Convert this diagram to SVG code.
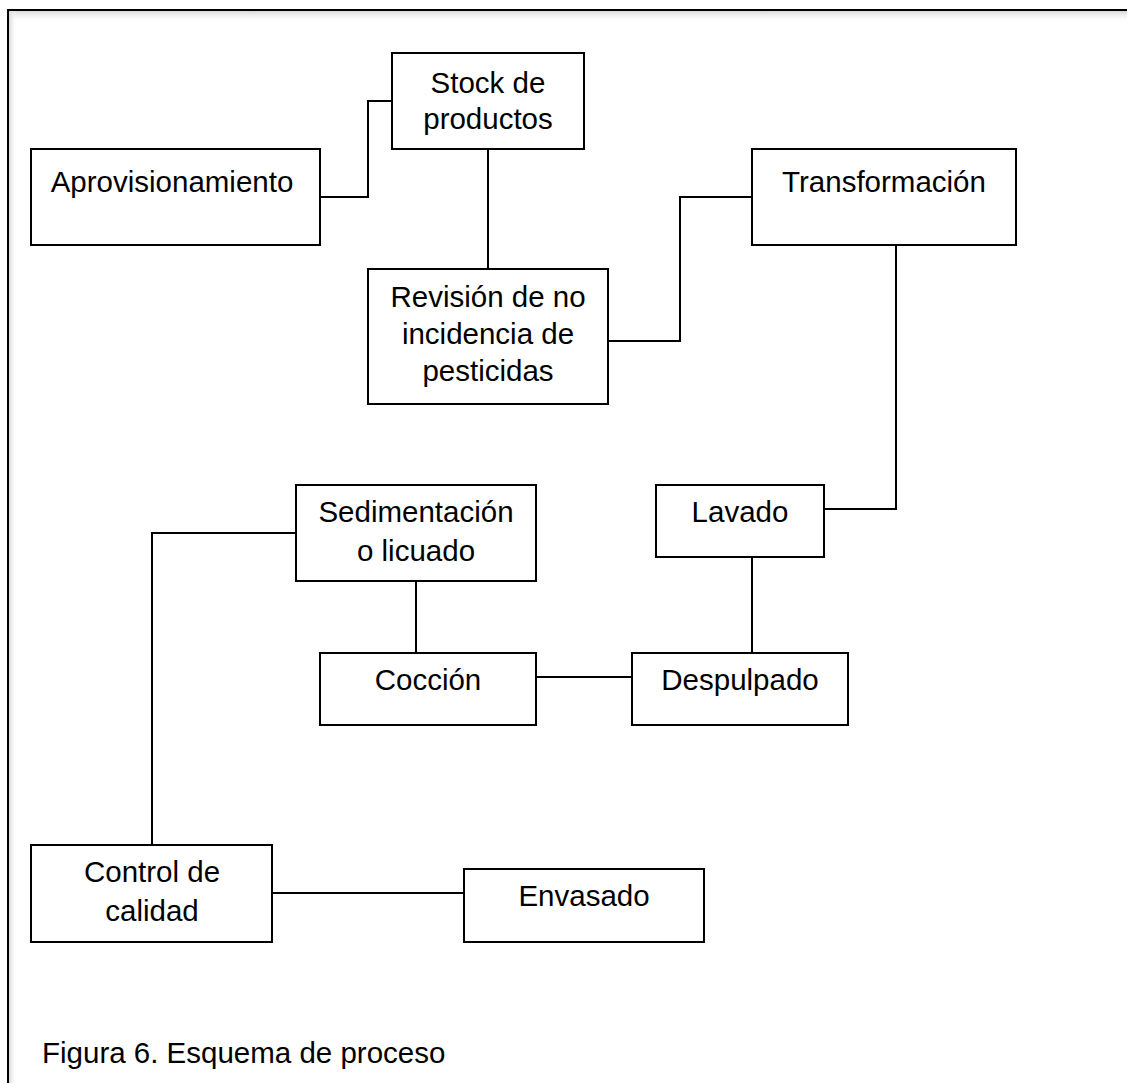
<svg xmlns="http://www.w3.org/2000/svg" width="1127" height="1083" viewBox="0 0 1127 1083">
  <defs>
    <linearGradient id="shTop" x1="0" y1="0" x2="0" y2="1">
      <stop offset="0" stop-color="#d8d8d8"/>
      <stop offset="1" stop-color="#ffffff" stop-opacity="0"/>
    </linearGradient>
    <linearGradient id="shLeft" x1="0" y1="0" x2="1" y2="0">
      <stop offset="0" stop-color="#d8d8d8"/>
      <stop offset="1" stop-color="#ffffff" stop-opacity="0"/>
    </linearGradient>
  </defs>
  <style>
    .box { fill: #ffffff; stroke: #000000; stroke-width: 2; }
    .conn { fill: none; stroke: #000000; stroke-width: 2; }
    .lbl { font-family: "Liberation Sans", Arial, sans-serif; font-size: 29.5px; fill: #000000; text-anchor: middle; }
    .cap { font-family: "Liberation Sans", Arial, sans-serif; font-size: 29.5px; fill: #000000; }
  </style>
  <rect x="0" y="0" width="1127" height="1083" fill="#ffffff"/>
  <g id="frame">
    <rect x="9" y="11" width="1118" height="12" fill="url(#shTop)"/>
    <rect x="9" y="11" width="8" height="1072" fill="url(#shLeft)"/>
    <path d="M8,1083 V10 H1127" fill="none" stroke="#000000" stroke-width="2"/>
  </g>
  <g id="connectors">
    <path class="conn" d="M320,197 H368 V101 H392"/>
    <path class="conn" d="M488,149 V269"/>
    <path class="conn" d="M608,341 H680 V197 H752"/>
    <path class="conn" d="M896,245 V509 H824"/>
    <path class="conn" d="M752,557 V653"/>
    <path class="conn" d="M632,677 H536"/>
    <path class="conn" d="M416,653 V581"/>
    <path class="conn" d="M296,533 H152 V845"/>
    <path class="conn" d="M272,893 H464"/>
  </g>
  <g id="aprovisionamiento">
    <rect class="box" x="31" y="149" width="289" height="96"/>
    <text class="lbl" x="172" y="192">Aprovisionamiento</text>
  </g>
  <g id="stock">
    <rect class="box" x="392" y="53" width="192" height="96"/>
    <text class="lbl" x="488" y="93">Stock de</text>
    <text class="lbl" x="488" y="129">productos</text>
  </g>
  <g id="revision">
    <rect class="box" x="368" y="269" width="240" height="135"/>
    <text class="lbl" x="488" y="307">Revisión de no</text>
    <text class="lbl" x="488" y="344">incidencia de</text>
    <text class="lbl" x="488" y="381">pesticidas</text>
  </g>
  <g id="transformacion">
    <rect class="box" x="752" y="149" width="264" height="96"/>
    <text class="lbl" x="884" y="192">Transformación</text>
  </g>
  <g id="lavado">
    <rect class="box" x="656" y="485" width="168" height="72"/>
    <text class="lbl" x="740" y="522">Lavado</text>
  </g>
  <g id="sedimentacion">
    <rect class="box" x="296" y="485" width="240" height="96"/>
    <text class="lbl" x="416" y="522">Sedimentación</text>
    <text class="lbl" x="416" y="561">o licuado</text>
  </g>
  <g id="coccion">
    <rect class="box" x="320" y="653" width="216" height="72"/>
    <text class="lbl" x="428" y="690">Cocción</text>
  </g>
  <g id="despulpado">
    <rect class="box" x="632" y="653" width="216" height="72"/>
    <text class="lbl" x="740" y="690">Despulpado</text>
  </g>
  <g id="control">
    <rect class="box" x="31" y="845" width="241" height="97"/>
    <text class="lbl" x="152" y="882">Control de</text>
    <text class="lbl" x="152" y="921">calidad</text>
  </g>
  <g id="envasado">
    <rect class="box" x="464" y="869" width="240" height="73"/>
    <text class="lbl" x="584" y="906">Envasado</text>
  </g>
  <text class="cap" x="42" y="1063">Figura 6. Esquema de proceso</text>
</svg>
